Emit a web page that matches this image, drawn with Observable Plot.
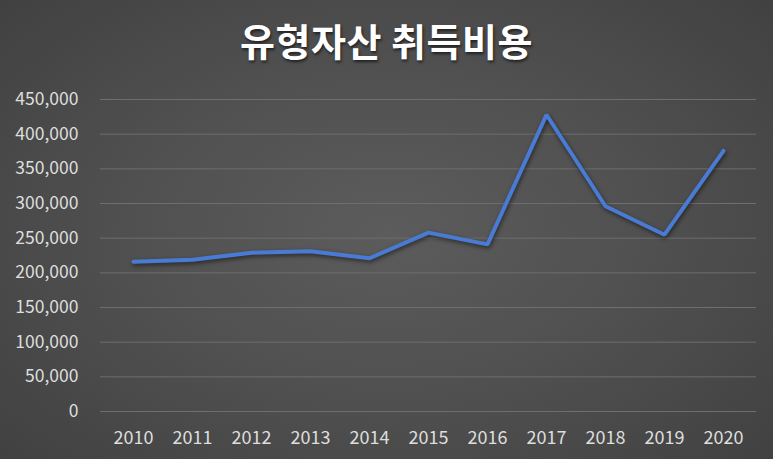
<!DOCTYPE html>
<html>
<head>
<meta charset="utf-8">
<script src="https://cdn.jsdelivr.net/npm/d3@7"></script>
<script src="https://cdn.jsdelivr.net/npm/@observablehq/plot@0.6"></script>
<style>
  html, body { margin: 0; padding: 0; }
  body { width: 773px; height: 459px; overflow: hidden;
    background: radial-gradient(ellipse 75% 80% at 50% 50%, #5c5c5c 0%, #505050 45%, #3e3e3e 100%);
    font-family: "Noto Sans CJK KR", "Noto Sans", sans-serif; }
  #title { height: 80px; line-height: 80px; text-align: center; color: #fff; font-size: 38px; font-weight: 700;
    text-shadow: 1px 2px 3px rgba(0,0,0,0.6); letter-spacing: 0.5px; }
  svg { display: block; background: transparent !important; }
  g[aria-label="line"] path { filter: drop-shadow(1px 2px 2px rgba(0,0,0,0.55)); }
</style>
</head>
<body>
<div id="title">유형자산 취득비용</div>
<div id="chart"></div>
<script>
const years = ["2010","2011","2012","2013","2014","2015","2016","2017","2018","2019","2020"];
const values = [216000, 219000, 229000, 231000, 221000, 258000, 241000, 428000, 296000, 255000, 376000];
const yTicks = [0, 50000, 100000, 150000, 200000, 250000, 300000, 350000, 400000, 450000];

const data = years.map((y, i) => ({year: y, value: values[i]}));
const fmt = d3.format(",");

const chart = Plot.plot({
  width: 773,
  height: 379,
  marginLeft: 100,
  marginRight: 17,
  marginTop: 19,
  marginBottom: 48,
  style: {background: "transparent", color: "#d9d9d9", fontSize: "17px", fontFamily: "'Noto Sans CJK KR', 'Noto Sans', sans-serif"},
  x: {type: "point", domain: years, padding: 0.5, label: null},
  y: {domain: [0, 450000], ticks: yTicks, label: null},
  marks: [
    Plot.gridY(yTicks, {stroke: "#6e6e6e", strokeOpacity: 1, strokeWidth: 1}),
    Plot.axisY(yTicks, {tickSize: 0, tickPadding: 22, tickFormat: fmt, fontSize: 17.5, fill: "#dedede", label: null}),
    Plot.axisX({tickSize: 0, tickPadding: 20, fontSize: 18, fill: "#dedede", label: null}),
    Plot.line(data, {x: "year", y: "value", stroke: "#4a7bd4", strokeWidth: 4, strokeLinejoin: "miter", strokeLinecap: "round"})
  ]
});
document.getElementById("chart").appendChild(chart);
</script>
</body>
</html>
